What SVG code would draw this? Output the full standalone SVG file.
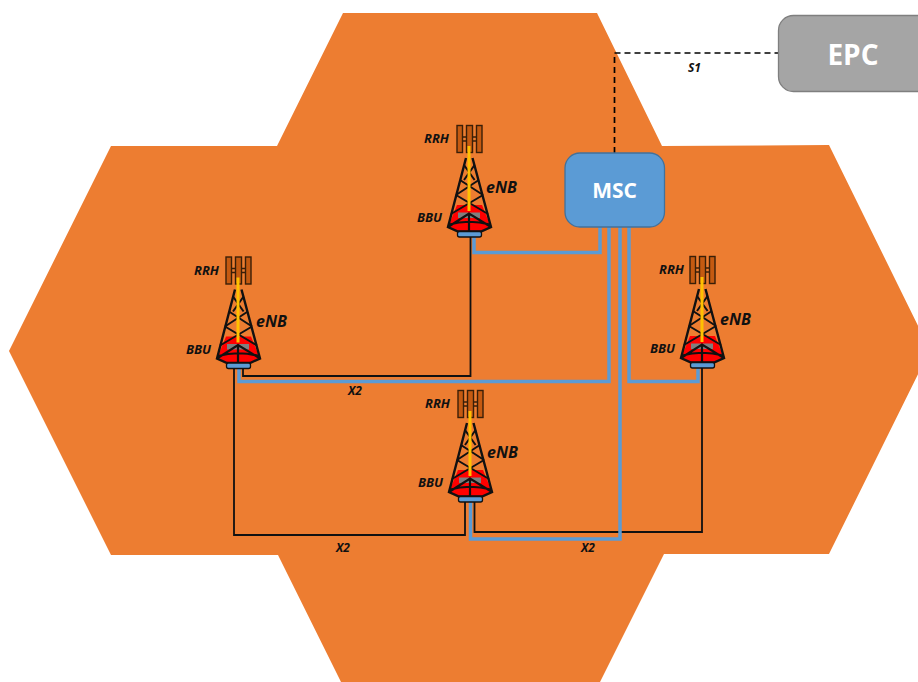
<svg xmlns="http://www.w3.org/2000/svg" width="918" height="682" viewBox="0 0 918 682">
<style>
.lbl{font-family:"Open Sans","Liberation Sans",sans-serif;font-style:italic;font-weight:700;fill:#111}
.t12{font-size:12px}.t13{font-size:13px}.t16{font-size:16px}
.box{font-family:"Open Sans","Liberation Sans",sans-serif;font-weight:700;fill:#fff;text-anchor:middle}
.blue{fill:none;stroke:#5b9bd5;stroke-width:3.5}
.blk{fill:none;stroke:#111;stroke-width:1.8}
.dash{fill:none;stroke:#000;stroke-width:1.7;stroke-dasharray:6 4}
</style>
<defs>
<g id="tower">
<g fill="#c55a11" stroke="#3a1f08" stroke-width="1.4">
<rect x="457" y="125.500" width="5.500" height="27"/><rect x="466.500" y="125.500" width="6" height="27"/><rect x="476.500" y="125.500" width="5.500" height="27"/>
<path d="M462.500 137h4M462.500 141h4M472.500 137h4M472.500 141h4" fill="none"/>
</g>
<path d="M457 205H482L491 227L481 231.500H458L448 227Z" fill="#f00"/>
<rect x="458" y="212.500" width="10" height="5.500" fill="#7f7f7f"/><rect x="470" y="212.500" width="10" height="5.500" fill="#7f7f7f"/>
<g fill="none" stroke="#111" stroke-width="2.400">
<path d="M466 158L448 227L458 231.500H481L491 227L472.500 158"/>
<path d="M464 165L474.600 180M474.600 165L464 180M460 180L483 195M478.800 180L456 195M456 195L488 214M483 195L451 214" stroke-width="2"/>
<path d="M448 227L469 213.500L491 227M449 224.500Q469 219 490 224.500M469 213.500V231" stroke-width="2.200"/>
</g>
<path d="M469 146V211" stroke="#ffc000" stroke-width="3" fill="none"/>
<rect x="457.500" y="231.500" width="24" height="5.500" rx="2" fill="#5b9bd5" stroke="#111" stroke-width="1.300"/>
</g>
</defs>
<path id="cells" d="M343 13H597L662 146L829 145L930 350L829 554L664 554L600 682H341L278 555H111L9 351L111 146L277 146Z" fill="#ed7d31"/>
<g id="connectors">
<path class="dash" d="M614.500 153V53H778"/>
<path class="blk" d="M470.500 237V376H243V368"/>
<path class="blk" d="M234 368V535H465V501"/>
<path class="blk" d="M474.500 501V532H702V368"/>
<path class="blue" d="M474 237V252.500H600V227"/>
<path class="blue" d="M239 368V381.500H609V227"/>
<path class="blue" d="M620 227V539H470.500V501"/>
<path class="blue" d="M629 227V381.500H698V368"/>
</g>
<g id="msc"><rect x="565" y="153" width="99.500" height="74" rx="15" fill="#5b9bd5" stroke="#41719c" stroke-width="1.300"/><text class="box" x="614.500" y="198" font-size="21">MSC</text></g>
<g id="epc"><rect x="778.500" y="15.500" width="170" height="76" rx="15" fill="#a5a5a5" stroke="#7f7f7f" stroke-width="1.300"/><text class="box" x="853" y="65" font-size="28">EPC</text></g>
<g id="enb-top"><use href="#tower"/><text class="lbl t13" x="424" y="142.500">RRH</text><text class="lbl t16" x="486" y="192.500">eNB</text><text class="lbl t13" x="417" y="222">BBU</text></g>
<g id="enb-left"><use href="#tower" x="-231" y="131.500"/><text class="lbl t13" x="194" y="274.500">RRH</text><text class="lbl t16" x="256" y="326.500">eNB</text><text class="lbl t13" x="186" y="354">BBU</text></g>
<g id="enb-right"><use href="#tower" x="233" y="131"/><text class="lbl t13" x="659" y="273.500">RRH</text><text class="lbl t16" x="720" y="324.500">eNB</text><text class="lbl t13" x="650" y="353">BBU</text></g>
<g id="enb-bottom"><use href="#tower" x="1" y="265"/><text class="lbl t13" x="425" y="407.500">RRH</text><text class="lbl t16" x="487" y="457.500">eNB</text><text class="lbl t13" x="418" y="487">BBU</text></g>
<g id="labels"><text class="lbl t12" x="688" y="72">S1</text><text class="lbl t12" x="348" y="395">X2</text><text class="lbl t12" x="336" y="552">X2</text><text class="lbl t12" x="581" y="552">X2</text></g>
</svg>
